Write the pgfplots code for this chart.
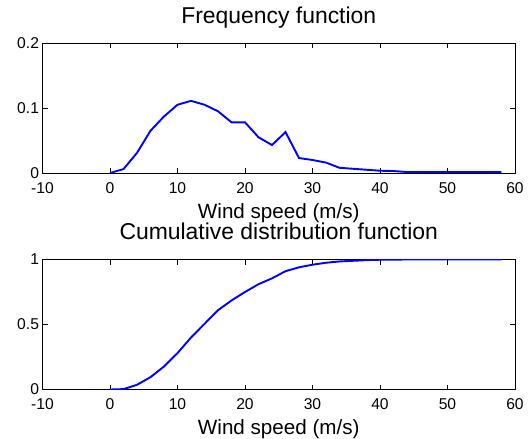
\documentclass[border=0pt]{standalone}
\usepackage{fontspec}
\setmainfont{Liberation Sans}
\usepackage{pgfplots}
\pgfplotsset{compat=1.18}
\begin{document}
\begin{tikzpicture}
\path[use as bounding box] (0bp,0bp) rectangle (530bp,-439bp);
\pgfplotsset{mystyle/.style={
  scale only axis, width=472.5bp, height=130bp,
  xmin=-10, xmax=60, xtick={-10,0,10,20,30,40,50,60},
  tick align=inside, tick pos=both,
  major tick length=5bp,
  no markers,
  /pgf/number format/assume math mode=true,
  ticklabel style={font=\fontsize{15.7}{18}\selectfont},
  xticklabel style={anchor=base, yshift=-20bp},
  axis line style={line width=0.8bp},
  every tick/.style={black, line width=0.8bp},
  label style={font=\fontsize{20.7}{23}\selectfont},
  title style={font=\fontsize{23}{26}\selectfont, at={(0.5,1)}, anchor=base, yshift=14bp},
  xlabel=Wind speed (m/s),
  xlabel style={at={(0.5,0)}, anchor=base, yshift=-45bp},
  every axis plot/.append style={color={rgb,1:red,0;green,0;blue,1}, line width=1.9bp},
}}
\begin{axis}[mystyle, at={(42.5bp,-43bp)}, anchor=north west,
  ymin=0, ymax=0.2, ytick={0,0.1,0.2}, title={Frequency function}]
\addplot coordinates {
(0,0) (2,0.006) (4,0.031) (6,0.065) (8,0.087) (10,0.105) (12,0.111) (14,0.105)
(16,0.095) (18,0.078) (20,0.078) (22,0.055) (24,0.043) (26,0.063) (28,0.023)
(30,0.020) (32,0.016) (34,0.008) (36,0.0065) (38,0.005) (40,0.0035) (42,0.003)
(44,0.0015) (46,0.0015) (48,0.0015) (50,0.0015) (52,0.0015) (54,0.0015) (56,0.0015) (58,0.0015)
};
\end{axis}
\begin{axis}[mystyle, at={(42.5bp,-259.5bp)}, anchor=north west,
  ymin=0, ymax=1, ytick={0,0.5,1}, title={Cumulative distribution function}]
\addplot coordinates {
(0,0) (2,0.003) (4,0.036) (6,0.095) (8,0.177) (10,0.28) (12,0.40) (14,0.505)
(16,0.61) (18,0.685) (20,0.75) (22,0.81) (24,0.855) (26,0.91) (28,0.94)
(30,0.96) (32,0.975) (34,0.985) (36,0.99) (38,0.995) (40,0.998) (42,0.999)
(44,1) (46,1) (48,1) (50,1) (52,1) (54,1) (56,1) (58,1)
};
\end{axis}
\end{tikzpicture}
\end{document}
